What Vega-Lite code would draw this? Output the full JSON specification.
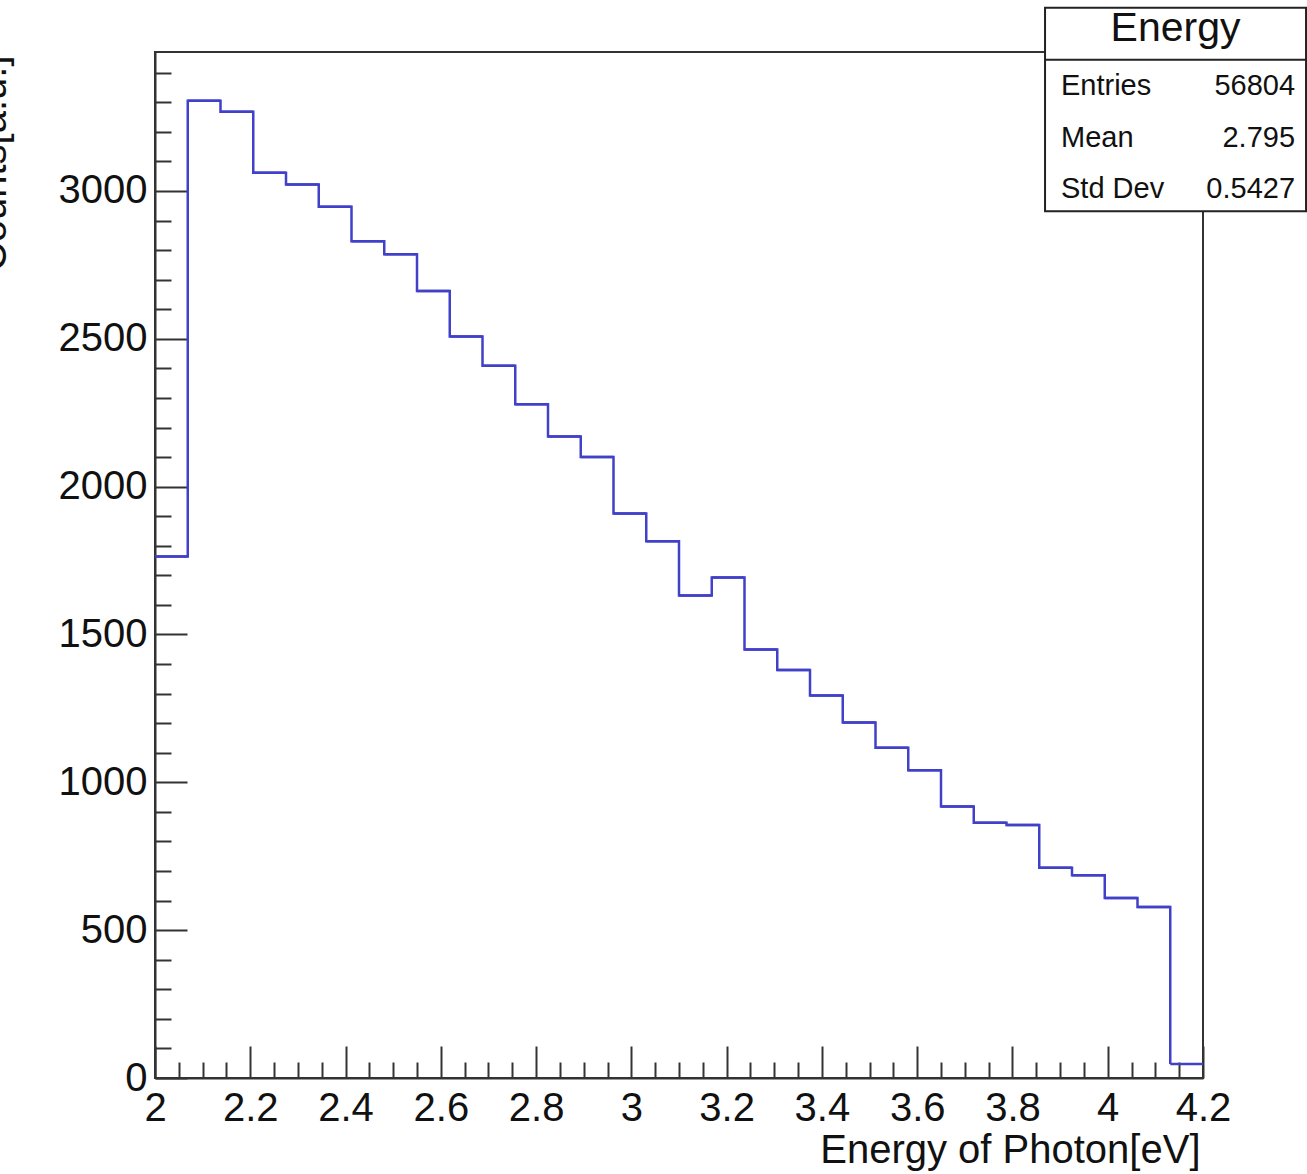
{
  "$schema": "https://vega.github.io/schema/vega-lite/v6.json",
  "width": 1048,
  "height": 1026,
  "autosize": {"type": "none"},
  "padding": {"left": 155, "top": 52, "right": 104, "bottom": 96},
  "background": "white",
  "config": {
    "view": {"stroke": "#333333", "strokeWidth": 2},
    "font": "Liberation Sans",
    "axis": {
      "domainColor": "#333333", "domainWidth": 2,
      "tickColor": "#333333", "tickWidth": 2,
      "labelColor": "#111111", "titleColor": "#111111",
      "labelFont": "Liberation Sans", "titleFont": "Liberation Sans",
      "labelFontSize": 40, "titleFontSize": 40, "titleFontWeight": "normal",
      "grid": false, "labelOverlap": false, "labelFlush": false
    }
  },
  "datasets": {
    "hist": [
      {"lo": 2.0, "hi": 2.06875, "count": 1764},
      {"lo": 2.06875, "hi": 2.1375, "count": 3305},
      {"lo": 2.1375, "hi": 2.20625, "count": 3268},
      {"lo": 2.20625, "hi": 2.275, "count": 3062},
      {"lo": 2.275, "hi": 2.34375, "count": 3022},
      {"lo": 2.34375, "hi": 2.4125, "count": 2947},
      {"lo": 2.4125, "hi": 2.48125, "count": 2830},
      {"lo": 2.48125, "hi": 2.55, "count": 2786},
      {"lo": 2.55, "hi": 2.61875, "count": 2662},
      {"lo": 2.61875, "hi": 2.6875, "count": 2508},
      {"lo": 2.6875, "hi": 2.75625, "count": 2409},
      {"lo": 2.75625, "hi": 2.825, "count": 2279},
      {"lo": 2.825, "hi": 2.89375, "count": 2170},
      {"lo": 2.89375, "hi": 2.9625, "count": 2100},
      {"lo": 2.9625, "hi": 3.03125, "count": 1909},
      {"lo": 3.03125, "hi": 3.1, "count": 1815},
      {"lo": 3.1, "hi": 3.16875, "count": 1632},
      {"lo": 3.16875, "hi": 3.2375, "count": 1693},
      {"lo": 3.2375, "hi": 3.30625, "count": 1449},
      {"lo": 3.30625, "hi": 3.375, "count": 1380},
      {"lo": 3.375, "hi": 3.44375, "count": 1294},
      {"lo": 3.44375, "hi": 3.5125, "count": 1202},
      {"lo": 3.5125, "hi": 3.58125, "count": 1117},
      {"lo": 3.58125, "hi": 3.65, "count": 1041},
      {"lo": 3.65, "hi": 3.71875, "count": 918},
      {"lo": 3.71875, "hi": 3.7875, "count": 863},
      {"lo": 3.7875, "hi": 3.85625, "count": 856},
      {"lo": 3.85625, "hi": 3.925, "count": 711},
      {"lo": 3.925, "hi": 3.99375, "count": 686},
      {"lo": 3.99375, "hi": 4.0625, "count": 609},
      {"lo": 4.0625, "hi": 4.13125, "count": 578},
      {"lo": 4.13125, "hi": 4.2, "count": 47}
    ],
    "box": [{"name": "Energy"}],
    "stats": [
      {"row": 1, "stat": "Entries", "value": "56804"},
      {"row": 2, "stat": "Mean", "value": "2.795"},
      {"row": 3, "stat": "Std Dev", "value": "0.5427"}
    ]
  },
  "resolve": {"scale": {"y": "independent"}},
  "layer": [
    {
      "layer": [
        {
          "data": {"name": "hist"},
          "mark": {"type": "line", "interpolate": "step-after", "color": "#4040c8", "strokeWidth": 2.5},
          "encoding": {
            "x": {
              "field": "lo", "type": "quantitative",
              "scale": {"domain": [2, 4.2], "nice": false, "zero": false},
              "axis": {
                "values": [2, 2.05, 2.1, 2.15, 2.2, 2.25, 2.3, 2.35, 2.4, 2.45, 2.5, 2.55, 2.6, 2.65, 2.7, 2.75, 2.8, 2.85, 2.9, 2.95, 3, 3.05, 3.1, 3.15, 3.2, 3.25, 3.3, 3.35, 3.4, 3.45, 3.5, 3.55, 3.6, 3.65, 3.7, 3.75, 3.8, 3.85, 3.9, 3.95, 4, 4.05, 4.1, 4.15, 4.2],
                "tickCount": 200,
                "format": "~g",
                "tickSize": {"condition": {"test": "abs(datum.value*5 - round(datum.value*5)) < 0.001", "value": -32}, "value": -16},
                "labelExpr": "abs(datum.value*5 - round(datum.value*5)) < 0.001 ? datum.label : ''",
                "labelPadding": 42,
                "title": "Energy of Photon[eV]",
                "titleX": 1045, "titleY": 84,
                "titleAlign": "right", "titleBaseline": "alphabetic", "titleAnchor": "end"
              }
            },
            "y": {
              "field": "count", "type": "quantitative",
              "scale": {"domain": [0, 3470], "nice": false, "zero": true},
              "axis": {
                "values": [0, 100, 200, 300, 400, 500, 600, 700, 800, 900, 1000, 1100, 1200, 1300, 1400, 1500, 1600, 1700, 1800, 1900, 2000, 2100, 2200, 2300, 2400, 2500, 2600, 2700, 2800, 2900, 3000, 3100, 3200, 3300, 3400],
                "tickCount": 200,
                "format": "d",
                "tickSize": {"condition": {"test": "datum.value % 500 === 0", "value": -32}, "value": -16},
                "labelExpr": "datum.value % 500 === 0 ? datum.label : ''",
                "labelPadding": 40,
                "title": "Counts[a.u.]",
                "titleX": -150, "titleY": 3, "titleAngle": 270,
                "titleAlign": "right", "titleBaseline": "alphabetic"
              }
            }
          }
        },
        {
          "data": {"name": "hist"},
          "mark": {"type": "rule", "color": "#4040c8", "strokeWidth": 2.5},
          "encoding": {
            "x": {"field": "lo", "type": "quantitative"},
            "x2": {"field": "hi"},
            "y": {"field": "count", "type": "quantitative"}
          }
        },
        {
          "data": {"name": "box"},
          "mark": {"type": "rect", "fill": "white", "stroke": "#222222", "strokeWidth": 2},
          "encoding": {
            "x": {"datum": 3.8684}, "x2": {"datum": 4.4163},
            "y": {"datum": 2931}, "y2": {"datum": 3620}
          }
        },
        {
          "data": {"name": "box"},
          "mark": {"type": "rule", "stroke": "#222222", "strokeWidth": 2},
          "encoding": {
            "x": {"datum": 3.8684}, "x2": {"datum": 4.4163},
            "y": {"datum": 3444}
          }
        },
        {
          "data": {"name": "box"},
          "mark": {"type": "text", "align": "center", "baseline": "alphabetic", "fontSize": 41, "color": "#111111", "font": "Liberation Sans"},
          "encoding": {
            "x": {"datum": 4.1424},
            "y": {"datum": 3508},
            "text": {"field": "name"}
          }
        }
      ]
    },
    {
      "data": {"name": "stats"},
      "layer": [
        {
          "mark": {"type": "text", "align": "left", "baseline": "alphabetic", "fontSize": 29, "color": "#111111", "font": "Liberation Sans"},
          "encoding": {
            "x": {"datum": 3.9019},
            "y": {"field": "row", "type": "quantitative", "scale": {"domain": [0.165, 20.087], "reverse": true, "nice": false, "zero": false}, "axis": null},
            "text": {"field": "stat"}
          }
        },
        {
          "mark": {"type": "text", "align": "right", "baseline": "alphabetic", "fontSize": 29, "color": "#111111", "font": "Liberation Sans"},
          "encoding": {
            "x": {"datum": 4.3932},
            "y": {"field": "row", "type": "quantitative"},
            "text": {"field": "value"}
          }
        }
      ]
    }
  ]
}
